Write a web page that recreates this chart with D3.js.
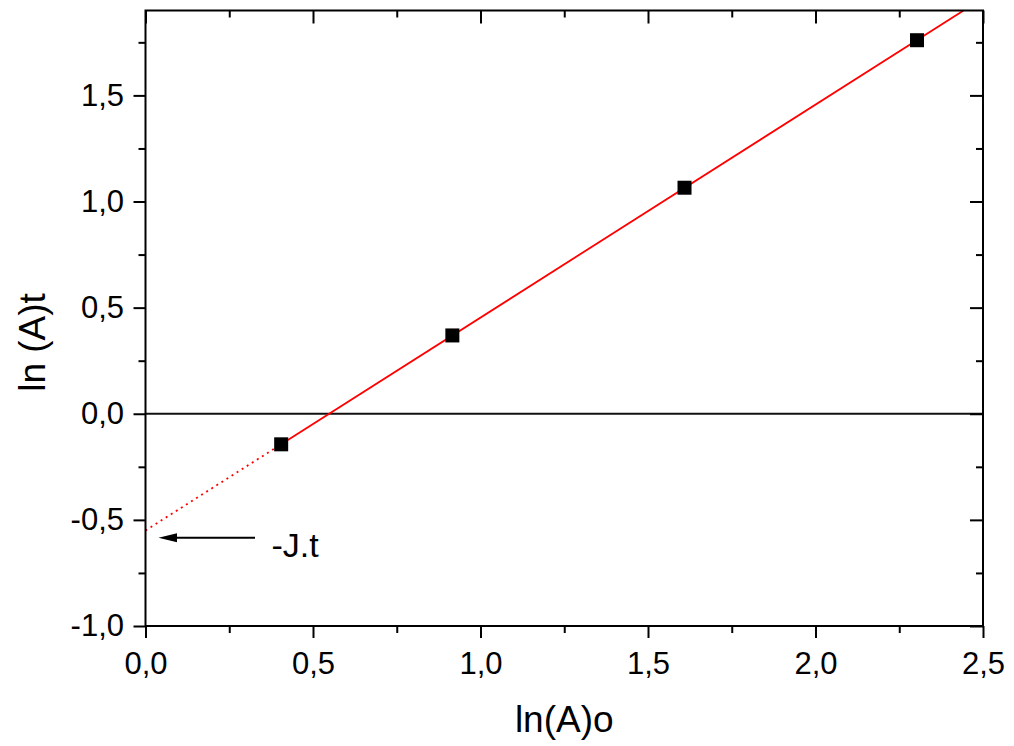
<!DOCTYPE html>
<html>
<head>
<meta charset="utf-8">
<script src="https://cdn.jsdelivr.net/npm/d3@7"></script>
<style>
  html, body { margin: 0; padding: 0; background: #fff; }
  svg { display: block; }
  text { font-family: "Liberation Sans", Arial, sans-serif; fill: #000; }
</style>
</head>
<body>
<svg id="chart" width="1014" height="746"></svg>
<script>
// ---- data ----
const xValues = [0.405, 0.916, 1.609, 2.303];
const yValues = [-0.144, 0.369, 1.065, 1.760];
const xTickValues = [0, 0.5, 1.0, 1.5, 2.0, 2.5];
const xTickLabels = ["0,0", "0,5", "1,0", "1,5", "2,0", "2,5"];
const yTickValues = [-1.0, -0.5, 0.0, 0.5, 1.0, 1.5];
const yTickLabels = ["-1,0", "-0,5", "0,0", "0,5", "1,0", "1,5"];
const xMinorTicks = [0.25, 0.75, 1.25, 1.75, 2.25];
const yMinorTicks = [-0.75, -0.25, 0.25, 0.75, 1.25, 1.75];
const xDomain = [0, 2.5];
const yDomain = [-1.0, 1.9];
const xTitle = "ln(A)o";
const yTitle = "ln (A)t";
const annotationText = "-J.t";

// ---- layout ----
const L = 145.5, R = 983, T = 10.5, B = 626;
const svg = d3.select("#chart");
const x = d3.scaleLinear().domain(xDomain).range([L, R]);
const y = d3.scaleLinear().domain(yDomain).range([B, T]);

// least-squares fit
const n = xValues.length;
const mx = d3.mean(xValues), my = d3.mean(yValues);
let sxy = 0, sxx = 0;
for (let i = 0; i < n; i++) { sxy += (xValues[i]-mx)*(yValues[i]-my); sxx += (xValues[i]-mx)**2; }
const slope = sxy / sxx, intercept = my - slope * mx;
const f = v => intercept + slope * v;
const xTop = (yDomain[1] - intercept) / slope;

// zero line
svg.append("line")
  .attr("x1", x(xDomain[0])).attr("x2", x(xDomain[1]))
  .attr("y1", y(0)).attr("y2", y(0))
  .attr("stroke", "#111").attr("stroke-width", 1.8);

// fit line
const line = d3.line().x(d => x(d)).y(d => y(f(d)));
svg.append("path")
  .attr("d", line([xValues[0], Math.min(xTop, xDomain[1])]))
  .attr("fill", "none").attr("stroke", "#ff0000").attr("stroke-width", 1.8);
svg.append("path")
  .attr("d", line([xDomain[0], xValues[0]]))
  .attr("fill", "none").attr("stroke", "#ff0000").attr("stroke-width", 1.8)
  .attr("stroke-dasharray", "2,4");

// points
const sz = 14;
svg.append("g").selectAll("rect").data(xValues).join("rect")
  .attr("x", (d) => x(d) - sz/2)
  .attr("y", (d, i) => y(yValues[i]) - sz/2)
  .attr("width", sz).attr("height", sz)
  .attr("fill", "#000");

// axes
const fs = 31;
const axB = d3.axisBottom(x).tickValues(xTickValues).tickSize(12).tickPadding(14)
  .tickFormat((d, i) => xTickLabels[i]);
svg.append("g").attr("transform", `translate(0,${B})`).call(axB);
const axBm = d3.axisBottom(x).tickValues(xMinorTicks).tickSize(7).tickFormat("");
svg.append("g").attr("transform", `translate(0,${B})`).call(axBm);

const axT = d3.axisTop(x).tickValues(xTickValues).tickSize(-13).tickFormat("");
svg.append("g").attr("transform", `translate(0,${T})`).call(axT);
const axTm = d3.axisTop(x).tickValues(xMinorTicks).tickSize(-7).tickFormat("");
svg.append("g").attr("transform", `translate(0,${T})`).call(axTm);

const axL = d3.axisLeft(y).tickValues(yTickValues).tickSize(12).tickPadding(9.5)
  .tickFormat((d, i) => yTickLabels[i]);
svg.append("g").attr("transform", `translate(${L},0)`).call(axL);
const axLm = d3.axisLeft(y).tickValues(yMinorTicks).tickSize(7).tickFormat("");
svg.append("g").attr("transform", `translate(${L},0)`).call(axLm);

const axR = d3.axisRight(y).tickValues(yTickValues).tickSize(-13).tickFormat("");
svg.append("g").attr("transform", `translate(${R},0)`).call(axR);
const axRm = d3.axisRight(y).tickValues(yMinorTicks).tickSize(-7).tickFormat("");
svg.append("g").attr("transform", `translate(${R},0)`).call(axRm);

svg.selectAll(".domain").remove();
svg.selectAll(".tick line").attr("stroke", "#000").attr("stroke-width", 2);
svg.selectAll(".tick text").attr("font-size", fs)
  .attr("font-family", "'Liberation Sans', Arial, sans-serif").attr("fill", "#000");

// frame
svg.append("rect")
  .attr("x", L).attr("y", T).attr("width", R - L).attr("height", B - T)
  .attr("fill", "none").attr("stroke", "#000").attr("stroke-width", 2);

// titles
svg.append("text")
  .attr("x", (L + R) / 2).attr("y", 732)
  .attr("text-anchor", "middle").attr("font-size", 37)
  .text(xTitle);
svg.append("text")
  .attr("transform", `translate(45,342.5) rotate(-90)`)
  .attr("text-anchor", "middle").attr("font-size", 37)
  .text(yTitle);

// annotation arrow
const ay = 537.7;
svg.append("line")
  .attr("x1", 255).attr("x2", 172).attr("y1", ay).attr("y2", ay)
  .attr("stroke", "#000").attr("stroke-width", 2);
svg.append("path")
  .attr("d", `M158.5,${ay} L177,${ay-4.5} L177,${ay+4.5} Z`)
  .attr("fill", "#000");
svg.append("text")
  .attr("x", 271.5).attr("y", 557).attr("font-size", 34)
  .text(annotationText);
</script>
</body>
</html>
